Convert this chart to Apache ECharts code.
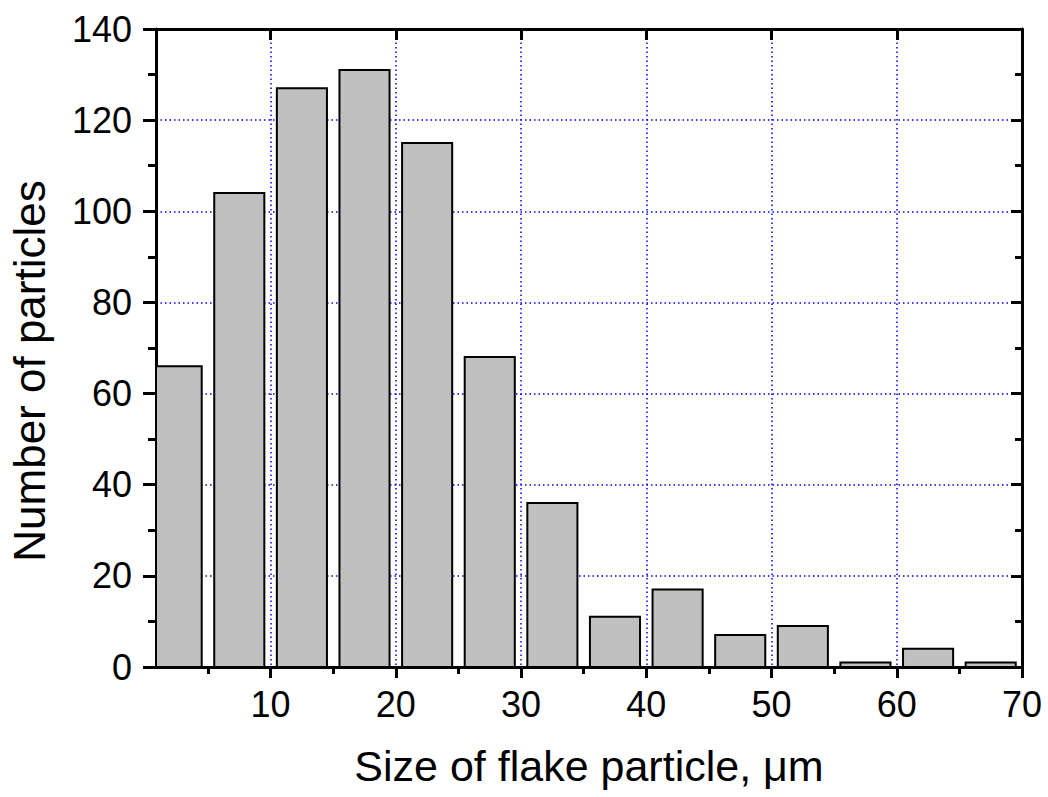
<!DOCTYPE html>
<html>
<head>
<meta charset="utf-8">
<script src="https://cdn.jsdelivr.net/npm/echarts@6/dist/echarts.min.js"></script>
<style>
  html, body { margin: 0; padding: 0; background: #fff; }
  #chartsDiv { width: 1048px; height: 797px; }
</style>
</head>
<body>
<div id="chartsDiv"></div>
<script>
// histogram bins (left edge of each 5 um bin) and counts
var binStart = [0, 5, 10, 15, 20, 25, 30, 35, 40, 45, 50, 55, 60, 65]
var counts = [66, 104, 127, 131, 115, 68, 36, 11, 17, 7, 9, 1, 4, 1]
var xMajor = [10, 20, 30, 40, 50, 60, 70]
var xMinor = [5, 15, 25, 35, 45, 55, 65]

var FONT = "'Liberation Sans', Arial, sans-serif"
var frame = { show: true, onZero: false, lineStyle: { color: '#000', width: 3 } }
var grid = { show: true, lineStyle: { color: '#0000ff', width: 1.5, type: [1.5, 3] } }

var realChart = echarts.init(document.getElementById('chartsDiv'), null, { renderer: 'svg' })

var option = {
  animation: false,
  grid: { left: 156, right: 26, top: 29, bottom: 130, containLabel: false, outerBoundsMode: 'none' },
  xAxis: [
    {
      // bottom axis: labels, major ticks outside, gridlines
      type: 'value', position: 'bottom', min: 0.85, max: 70,
      axisLine: frame,
      axisTick: { show: true, inside: false, length: 11, customValues: xMajor, lineStyle: { width: 3, color: '#000' } },
      axisLabel: { customValues: xMajor, color: '#000', fontSize: 36, fontFamily: FONT, margin: 19 },
      splitLine: grid,
      name: 'Size of flake particle, \u03bcm',
      nameLocation: 'middle',
      nameGap: 77,
      nameTextStyle: { color: '#000', fontSize: 43, fontFamily: FONT }
    },
    {
      // bottom minor ticks
      type: 'value', position: 'bottom', min: 0.85, max: 70,
      axisLine: { show: false },
      axisTick: { show: true, inside: false, length: 7, customValues: xMinor, lineStyle: { width: 3, color: '#000' } },
      axisLabel: { show: false },
      splitLine: { show: false }
    },
    {
      // top frame, ticks inside
      type: 'value', position: 'top', min: 0.85, max: 70,
      axisLine: frame,
      axisTick: { show: true, inside: true, length: 11, customValues: xMajor, lineStyle: { width: 3, color: '#000' } },
      axisLabel: { show: false },
      splitLine: { show: false }
    },
    {
      type: 'value', position: 'top', min: 0.85, max: 70,
      axisLine: { show: false },
      axisTick: { show: true, inside: true, length: 7, customValues: xMinor, lineStyle: { width: 3, color: '#000' } },
      axisLabel: { show: false },
      splitLine: { show: false }
    }
  ],
  yAxis: [
    {
      type: 'value', position: 'left', min: 0, max: 140, interval: 20,
      axisLine: frame,
      axisTick: { show: true, inside: false, length: 13, lineStyle: { width: 3, color: '#000' } },
      minorTick: { show: true, splitNumber: 2, length: 8, lineStyle: { width: 3, color: '#000' } },
      axisLabel: { color: '#000', fontSize: 36, fontFamily: FONT, margin: 24 },
      splitLine: grid,
      name: 'Number of particles',
      nameLocation: 'middle',
      nameGap: 105,
      nameTextStyle: { color: '#000', fontSize: 44, fontFamily: FONT, padding: [0, 46, 0, 0] }
    },
    {
      type: 'value', position: 'right', min: 0, max: 140, interval: 20,
      axisLine: frame,
      axisTick: { show: true, inside: true, length: 11, lineStyle: { width: 3, color: '#000' } },
      minorTick: { show: true, splitNumber: 2, length: 7, lineStyle: { width: 3, color: '#000' } },
      axisLabel: { show: false },
      splitLine: { show: false }
    }
  ],
  series: [
    {
      type: 'custom',
      xAxisIndex: 0,
      yAxisIndex: 0,
      data: binStart.map(function (b, i) { return [b, counts[i]] }),
      renderItem: function (params, api) {
        var b = api.value(0)
        var p0 = api.coord([b + 0.5, api.value(1)])
        var p1 = api.coord([b + 4.5, 0])
        var rect = echarts.graphic.clipRectByRect(
          { x: p0[0], y: p0[1], width: p1[0] - p0[0], height: p1[1] - p0[1] },
          {
            x: params.coordSys.x, y: params.coordSys.y - 2,
            width: params.coordSys.width, height: params.coordSys.height + 2
          }
        )
        if (!rect) return
        return {
          type: 'rect',
          shape: rect,
          style: { fill: '#c0c0c0', stroke: '#000', lineWidth: 2 }
        }
      }
    }
  ]
}

realChart.setOption(option)
</script>
</body>
</html>
